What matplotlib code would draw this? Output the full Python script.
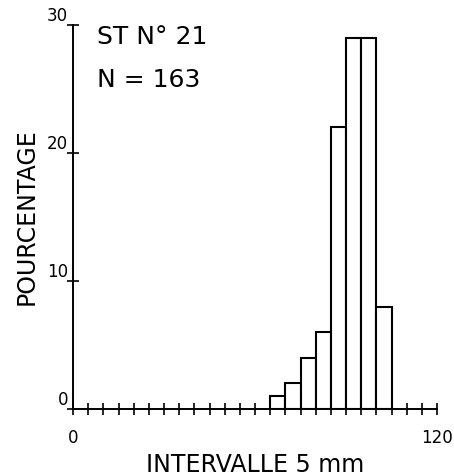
import matplotlib
matplotlib.use("Agg")
import matplotlib.pyplot as plt

# class starts (mm) and percentage per 5 mm class
bin_starts = [65, 70, 75, 80, 85, 90, 95, 100]
percentages = [1, 2, 4, 6, 22, 29, 29, 8]
station = "ST N° 21"
n_label = "N = 163"

fig = plt.figure(figsize=(4.54, 4.76), dpi=100)
ax = fig.add_axes([0.161, 0.1408, 0.8018, 0.8067])

ax.bar(bin_starts, percentages, width=5, align="edge",
       facecolor="white", edgecolor="black", linewidth=1.5)

ax.set_xlim(0, 120)
ax.set_ylim(0, 30)
ax.spines["top"].set_visible(False)
ax.spines["right"].set_visible(False)
ax.spines["left"].set_linewidth(1.4)
ax.spines["bottom"].set_linewidth(1.4)

ax.set_xticks(range(0, 121, 5))
ax.set_xticklabels(["0" if v == 0 else "120" if v == 120 else "" for v in range(0, 121, 5)],
                   fontsize=12)
ax.tick_params(axis="x", direction="inout", length=9, width=1.2, pad=10)
ax.set_yticks([0, 10, 20, 30])
ax.tick_params(axis="y", direction="inout", length=9, width=1.2, pad=-1, labelsize=12)
for lab in ax.get_yticklabels():
    lab.set_verticalalignment("bottom")

ax.set_xlabel("INTERVALLE 5 mm", fontsize=17, labelpad=4)
ax.set_ylabel("POURCENTAGE", fontsize=17, labelpad=6)

ax.text(8, 29.1, station, fontsize=18, va="center", ha="left")
ax.text(8, 25.7, n_label, fontsize=18, va="center", ha="left")

fig.savefig("out.png", dpi=100)
